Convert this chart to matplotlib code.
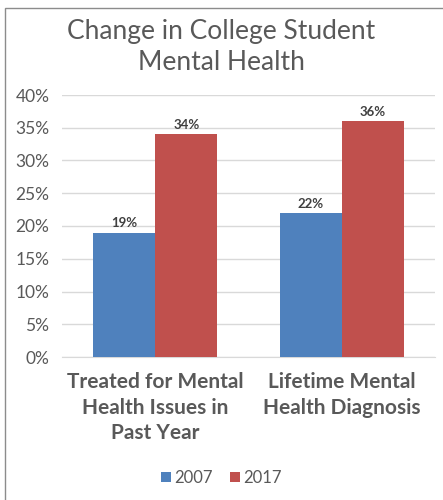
import matplotlib
matplotlib.use("Agg")
import matplotlib.pyplot as plt
from matplotlib.patches import Rectangle
import numpy as np

categories = ["Treated for Mental\nHealth Issues in\nPast Year", "Lifetime Mental\nHealth Diagnosis"]
series_names = ["2007", "2017"]
values_2007 = [19, 22]
values_2017 = [34, 36]
yticks = [0, 5, 10, 15, 20, 25, 30, 35, 40]

plt.rcParams['font.family'] = ['Lato', 'DejaVu Sans']
text_color = "#595959"
blue = "#4F81BD"
red = "#C0504D"

fig = plt.figure(figsize=(4.43, 5.0), dpi=100)
fig.patches.append(Rectangle((5/443, -0.05), 1.0, 1-8/500 + 0.05, transform=fig.transFigure,
                             fill=False, edgecolor="#8c8c8c", linewidth=1.0))
ax = fig.add_axes([62/443, 1-357/500, 373/443, 262/500])

x = np.arange(len(categories))
w = 1/3
b1 = ax.bar(x - w/2, values_2007, w, color=blue, label=series_names[0], zorder=3)
b2 = ax.bar(x + w/2, values_2017, w, color=red, label=series_names[1], zorder=3)
for bars, vals in ((b1, values_2007), (b2, values_2017)):
    for r, v in zip(bars, vals):
        ax.text(r.get_x() + r.get_width()/2, v + 0.5, f"{v}%", ha="center", va="bottom",
                fontsize=9.5, fontweight="bold", color="#404040")

ax.set_xlim(-0.5, 1.5)
ax.set_ylim(0, 40)
ax.set_yticks(yticks)
ax.set_yticklabels([f"{t}%" for t in yticks], fontsize=12.5, color=text_color)
ax.yaxis.grid(True, color="#D9D9D9", linewidth=1, zorder=0)
ax.tick_params(axis="y", length=0, pad=9)
ax.tick_params(axis="x", length=0, pad=11)
ax.set_xticks(x)
ax.set_xticklabels(categories, fontsize=15, fontweight="bold", color=text_color, linespacing=1.35)
for s in ["top", "right", "left"]:
    ax.spines[s].set_visible(False)
ax.spines["bottom"].set_color("#D9D9D9")

fig.text(0.5, 1-47/500, "Change in College Student\nMental Health", ha="center", va="center",
         fontsize=19, color=text_color, linespacing=1.3)

fig.legend(handles=[b1, b2], labels=series_names, loc="center", bbox_to_anchor=(0.5, 1-478/500),
           ncol=2, frameon=False, fontsize=12, handlelength=0.6, handleheight=0.6,
           handletextpad=0.2, columnspacing=1.0, labelcolor=text_color)

fig.savefig("out.png", dpi=100)
